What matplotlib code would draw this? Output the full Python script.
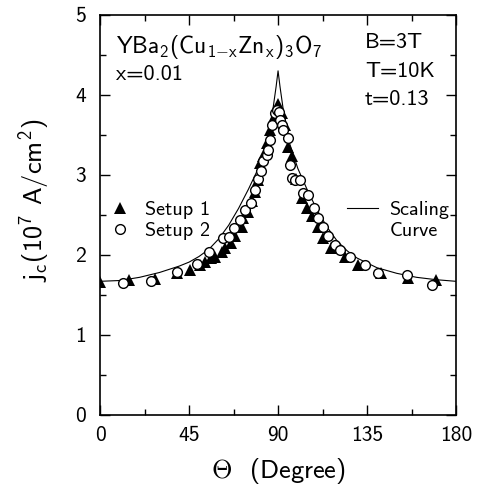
import numpy as np
import matplotlib
matplotlib.use('Agg')
import matplotlib.pyplot as plt
from matplotlib.lines import Line2D

plt.rcParams['font.family'] = ['cmss10', 'DejaVu Sans']
plt.rcParams['mathtext.fontset'] = 'custom'
plt.rcParams['mathtext.rm'] = 'cmss10'
plt.rcParams['mathtext.it'] = 'cmss10'
plt.rcParams['axes.unicode_minus'] = False

# Setup 1 (filled triangles)
theta1 = [0, 14.5, 28, 39, 45.5, 50.5, 53, 56, 58, 61.5, 63.2, 66, 68.3, 71.6, 72.5, 74.8,
          76.7, 78.4, 80, 81, 82.5, 84.3, 86, 88, 90, 91.8, 93.5, 95, 97, 99, 102, 104.5,
          107, 110, 112.9, 117, 124, 130.5, 142, 155.8, 170]
jc1 = [1.66, 1.69, 1.70, 1.77, 1.81, 1.88, 1.91, 1.96, 1.98, 2.04, 2.09, 2.15, 2.23, 2.35,
       2.46, 2.54, 2.67, 2.79, 2.94, 3.15, 3.23, 3.40, 3.56, 3.72, 3.88, 3.77, 3.62, 3.35,
       3.23, 2.95, 2.71, 2.59, 2.48, 2.35, 2.21, 2.09, 1.98, 1.87, 1.77, 1.71, 1.69]

# Setup 2 (open circles)
theta2 = [11.8, 25.8, 39, 48.9, 55, 62.2, 65.2, 67.7, 70.8, 73.3, 76.3, 78.4, 80, 81.2,
          82.4, 84.3, 85, 86, 86.8, 88.5, 89.3, 90.3, 91, 91.8, 92.7, 95, 96, 97, 98.6, 101,
          102.6, 105, 108.2, 110.3, 112.9, 115.4, 118.8, 121.3, 126.4, 134, 140.5, 155, 168]
jc2 = [1.65, 1.68, 1.79, 1.89, 2.04, 2.21, 2.22, 2.34, 2.44, 2.56, 2.65, 2.81, 2.95, 3.05,
       3.17, 3.25, 3.31, 3.44, 3.62, 3.77, 3.81, 3.78, 3.69, 3.62, 3.56, 3.46, 3.12, 2.96,
       2.94, 2.94, 2.77, 2.75, 2.59, 2.46, 2.35, 2.23, 2.13, 2.06, 1.98, 1.87, 1.78, 1.75, 1.63]

# scaling curve
theta_fit = [0, 10, 20, 30, 40, 45, 50, 55, 60, 65, 70, 75, 80, 84, 87, 89, 90, 91, 93, 96,
             100, 105, 110, 115, 120, 125, 130, 135, 140, 150, 160, 170, 180]
jc_fit = [1.67, 1.68, 1.72, 1.78, 1.86, 1.91, 1.98, 2.07, 2.20, 2.37, 2.58, 2.82, 3.08, 3.38,
          3.75, 4.10, 4.30, 4.10, 3.75, 3.38, 3.08, 2.80, 2.55, 2.34, 2.17, 2.05, 1.96, 1.90,
          1.84, 1.77, 1.72, 1.69, 1.67]

fig = plt.figure(figsize=(4.79, 4.94), dpi=100)
ax = fig.add_axes([0.209, 0.160, 0.743, 0.810])

line, = ax.plot(theta_fit, jc_fit, color='black', lw=0.8)
s1, = ax.plot(theta1, jc1, '^', color='black', ms=8, mew=0, ls='none')
s2, = ax.plot(theta2, jc2, 'o', mfc='white', mec='black', ms=7, mew=1.0, ls='none')

ax.set_xlim(0, 180)
ax.set_ylim(0, 5)
ax.set_xticks([0, 45, 90, 135, 180])
ax.set_xticks([22.5, 67.5, 112.5, 157.5], minor=True)
ax.set_yticks([0, 1, 2, 3, 4, 5])
ax.set_yticks(np.arange(0.5, 5, 1), minor=True)
ax.tick_params(which='both', direction='in', top=True, right=True, labelsize=15.5)
ax.tick_params(which='major', length=7, width=1.0)
ax.tick_params(which='minor', length=4, width=1.0)
ax.tick_params(axis='y', pad=10)
ax.tick_params(axis='x', pad=8)
for sp in ax.spines.values():
    sp.set_linewidth(1.2)

ax.set_xlabel(r'$\Theta$  (Degree)', fontsize=19, labelpad=8)
ax.set_ylabel(r'j$_{\rm c}$(10$^7$ A/cm$^2$)', fontsize=19)
ax.yaxis.set_label_coords(-0.135, 0.535)

ax.text(0.045, 0.955, r'YBa$_2$(Cu$_{1\mathrm{-}x}$Zn$_x$)$_3$O$_7$', transform=ax.transAxes,
        fontsize=17, va='top', ha='left')
ax.text(0.045, 0.875, 'x=0.01', transform=ax.transAxes, fontsize=16, va='top', ha='left')
ax.text(0.744, 0.955, 'B=3T\nT=10K\nt=0.13', transform=ax.transAxes, fontsize=16,
        va='top', ha='left', linespacing=1.65)

leg1 = ax.legend([s1, s2], ['Setup 1', 'Setup 2'], loc='upper left',
                 bbox_to_anchor=(0.028, 0.535), frameon=False, fontsize=14.5,
                 borderpad=0, borderaxespad=0,
                 handletextpad=0.75, labelspacing=0.15, handlelength=1.0)
ax.add_artist(leg1)
blank = Line2D([], [], color='none')
ax.legend([line, blank], ['Scaling', 'Curve'], loc='upper left',
          bbox_to_anchor=(0.694, 0.535), frameon=False, fontsize=14.5,
          borderpad=0, borderaxespad=0,
          handletextpad=0.55, labelspacing=0.15, handlelength=1.55)

fig.savefig('out.png', dpi=100)
